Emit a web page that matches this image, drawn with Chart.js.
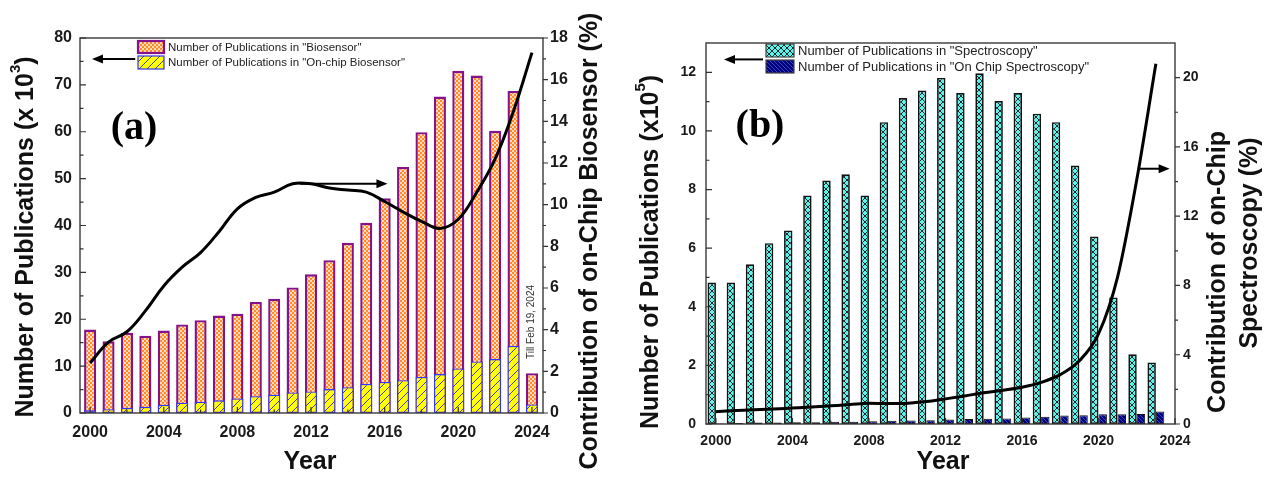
<!DOCTYPE html>
<html>
<head>
<meta charset="utf-8">
<script src="https://cdn.jsdelivr.net/npm/chart.js@4.4.1/dist/chart.umd.min.js"></script>
<style>
  html, body { margin: 0; padding: 0; background: #fff; }
  #wrap { position: relative; width: 1270px; height: 479px; overflow: hidden; background: #fff; }
  .panel { position: absolute; top: 0; height: 479px; }
  #pa { left: 0; width: 620px; }
  #pb { left: 625px; width: 645px; }
</style>
</head>
<body>
<div id="wrap">
  <div class="panel" id="pa"><canvas id="ca"></canvas></div>
  <div class="panel" id="pb"><canvas id="cb"></canvas></div>
</div>
<script>
// ---------- Panel (a): biosensor publications ----------
const yearsA = [2000, 2001, 2002, 2003, 2004, 2005, 2006, 2007, 2008, 2009, 2010, 2011, 2012,
                2013, 2014, 2015, 2016, 2017, 2018, 2019, 2020, 2021, 2022, 2023, 2024];
// publications, thousands
const biosensorPubs = [17.8, 15.3, 17.1, 16.5, 17.6, 18.9, 19.8, 20.8, 21.2, 23.7, 24.4, 26.8, 29.6,
                       32.6, 36.3, 40.6, 45.8, 52.5, 59.9, 67.5, 73.0, 72.0, 60.2, 68.7, 8.5];
const onChipBiosensorPubs = [0.6, 0.8, 1.1, 1.3, 1.7, 2.2, 2.4, 2.7, 3.1, 3.6, 3.9, 4.4, 4.6,
                             5.1, 5.5, 6.2, 6.6, 7.0, 7.7, 8.3, 9.5, 11.0, 11.5, 14.3, 1.8];
// share of on-chip work, percent
const onChipBiosensorShare = [2.4, 3.4, 3.9, 4.9, 6.1, 7.0, 7.7, 8.7, 9.8, 10.35, 10.6, 11.0, 11.0,
                              10.8, 10.7, 10.6, 10.15, 9.65, 9.2, 8.86, 9.3, 10.6, 12.2, 14.5, 17.3];

// ---------- Panel (b): spectroscopy publications ----------
const yearsB = [2000, 2001, 2002, 2003, 2004, 2005, 2006, 2007, 2008, 2009, 2010, 2011,
                2012, 2013, 2014, 2015, 2016, 2017, 2018, 2019, 2020, 2021, 2022, 2023];
// publications, units of 10^5
const spectroscopyPubs = [4.83, 4.83, 5.45, 6.17, 6.6, 7.8, 8.31, 8.52, 7.8, 10.3, 11.12, 11.38,
                          11.81, 11.29, 11.97, 11.02, 11.29, 10.59, 10.3, 8.82, 6.4, 4.32, 2.38, 2.1];
const onChipSpectroscopyPubs = [0.02, 0.03, 0.05, 0.05, 0.06, 0.06, 0.08, 0.08, 0.09, 0.11, 0.12, 0.13,
                                0.15, 0.17, 0.18, 0.19, 0.22, 0.25, 0.29, 0.30, 0.33, 0.33, 0.34, 0.43];
const onChipSpectroscopyShare = [0.71, 0.78, 0.82, 0.86, 0.92, 0.98, 1.05, 1.12, 1.2, 1.18, 1.2, 1.3,
                                 1.45, 1.62, 1.8, 1.95, 2.12, 2.4, 2.85, 3.65, 5.2, 8.5, 14.1, 20.8];

// ---------- tick values ----------
const yearTicks = [2000, 2004, 2008, 2012, 2016, 2020, 2024];
const pubTicksA = [0, 10, 20, 30, 40, 50, 60, 70, 80];
const shareTicksA = [0, 2, 4, 6, 8, 10, 12, 14, 16, 18];
const pubTicksB = [0, 2, 4, 6, 8, 10, 12];
const shareTicksB = [0, 4, 8, 12, 16, 20];

const FONT = '"Liberation Sans", Arial, Helvetica, sans-serif';
const SERIF = '"Liberation Serif", "Times New Roman", serif';

const pts = (xs, ys) => xs.map((x, i) => ({ x: x, y: ys[i] }));
const midpoints = (arr) => arr.slice(0, -1).map((v, i) => (v + arr[i + 1]) / 2);

function makePattern(ctx, size, paint) {
  const c = document.createElement('canvas');
  c.width = size; c.height = size;
  paint(c.getContext('2d'), size);
  return ctx.createPattern(c, 'repeat');
}

const ctxA = document.getElementById('ca').getContext('2d');
const ctxB = document.getElementById('cb').getContext('2d');

function paintChecker(g, n) {
  g.fillStyle = '#ffdcb4'; g.fillRect(0, 0, n, n);
  g.fillStyle = '#ff8a2c';
  g.fillRect(0, 0, n / 2, n / 2); g.fillRect(n / 2, n / 2, n / 2, n / 2);
}
function paintYellowHatch(g, n) {
  g.fillStyle = '#ffff00'; g.fillRect(0, 0, n, n);
  g.strokeStyle = '#44446e'; g.lineWidth = 1;
  g.beginPath();
  g.moveTo(0, n); g.lineTo(n, 0);
  g.moveTo(-1, 1); g.lineTo(1, -1);
  g.moveTo(n - 1, n + 1); g.lineTo(n + 1, n - 1);
  g.stroke();
}
function paintCyanCross(g, n) {
  g.fillStyle = '#5ef3ea'; g.fillRect(0, 0, n, n);
  g.strokeStyle = '#1c2a2a'; g.lineWidth = 1;
  g.beginPath();
  g.moveTo(0, 0); g.lineTo(n, n);
  g.moveTo(0, n); g.lineTo(n, 0);
  g.stroke();
}
function paintNavyHatch(g, n) {
  g.fillStyle = '#00007a'; g.fillRect(0, 0, n, n);
  g.strokeStyle = '#3346c8'; g.lineWidth = 1;
  g.beginPath();
  g.moveTo(0, 0); g.lineTo(n, n);
  g.moveTo(-1, n - 1); g.lineTo(1, n + 1);
  g.moveTo(n - 1, -1); g.lineTo(n + 1, 1);
  g.stroke();
}

const orangeA = makePattern(ctxA, 4, paintChecker);
const yellowA = makePattern(ctxA, 8, paintYellowHatch);
const cyanB = makePattern(ctxB, 6, paintCyanCross);
const navyB = makePattern(ctxB, 4, paintNavyHatch);

// ---------- drawing helpers ----------
function arrow(ctx, x1, y1, x2, y2) {
  const ang = Math.atan2(y2 - y1, x2 - x1), hl = 11, hw = 4.5;
  const c = Math.cos(ang), s = Math.sin(ang);
  ctx.beginPath(); ctx.moveTo(x1, y1); ctx.lineTo(x2 - hl * c * 0.7, y2 - hl * s * 0.7); ctx.stroke();
  ctx.beginPath();
  ctx.moveTo(x2, y2);
  ctx.lineTo(x2 - hl * c + hw * s, y2 - hl * s - hw * c);
  ctx.lineTo(x2 - hl * c - hw * s, y2 - hl * s + hw * c);
  ctx.closePath(); ctx.fill();
}

// parts: [{t, sup}]; drawn centred on (x, y), rotated by rot
function richText(ctx, parts, x, y, size, rot) {
  ctx.save();
  ctx.translate(x, y);
  ctx.rotate(rot || 0);
  ctx.textBaseline = 'middle';
  ctx.textAlign = 'left';
  let total = 0;
  const w = parts.map(p => {
    ctx.font = 'bold ' + (p.sup ? size * 0.6 : size) + 'px ' + FONT;
    const m = ctx.measureText(p.t).width; total += m; return m;
  });
  let cx = -total / 2;
  parts.forEach((p, i) => {
    ctx.font = 'bold ' + (p.sup ? size * 0.6 : size) + 'px ' + FONT;
    ctx.fillText(p.t, cx, p.sup ? -size * 0.42 : 0);
    cx += w[i];
  });
  ctx.restore();
}

function drawTicks(ctx, chart, spec) {
  const a = chart.chartArea, sx = chart.scales.x, yl = chart.scales.yL, yr = chart.scales.yR;
  ctx.strokeStyle = '#333'; ctx.lineWidth = 1.2;
  ctx.beginPath();
  spec.xMajor.forEach(v => { const p = sx.getPixelForValue(v); ctx.moveTo(p, a.bottom); ctx.lineTo(p, a.bottom - 6); });
  spec.xMinor.forEach(v => { const p = sx.getPixelForValue(v); ctx.moveTo(p, a.bottom); ctx.lineTo(p, a.bottom - 3.5); });
  spec.lMajor.forEach(v => { const p = yl.getPixelForValue(v); ctx.moveTo(a.left, p); ctx.lineTo(a.left + 6, p); });
  spec.lMinor.forEach(v => { const p = yl.getPixelForValue(v); ctx.moveTo(a.left, p); ctx.lineTo(a.left + 3.5, p); });
  spec.rMajor.forEach(v => { const p = yr.getPixelForValue(v); ctx.moveTo(a.right, p); ctx.lineTo(a.right + 5, p); });
  spec.rMinor.forEach(v => { const p = yr.getPixelForValue(v); ctx.moveTo(a.right, p); ctx.lineTo(a.right + 3, p); });
  ctx.stroke();
}

function legendRow(ctx, x, y, w, h, fill, stroke, lw, text, size) {
  ctx.fillStyle = fill; ctx.fillRect(x, y, w, h);
  ctx.strokeStyle = stroke; ctx.lineWidth = lw; ctx.strokeRect(x, y, w, h);
  ctx.fillStyle = '#222';
  ctx.font = size + 'px ' + FONT;
  ctx.textBaseline = 'middle'; ctx.textAlign = 'left';
  ctx.fillText(text, x + w + 4, y + h / 2 + 0.5);
}

// ---------- shared scale options ----------
function xScale(min, max, height, pad, size) {
  return {
    type: 'linear', position: 'bottom', min: min, max: max, offset: false,
    grid: { display: false, drawTicks: false }, border: { display: false },
    ticks: { color: '#1a1a1a', padding: pad, maxRotation: 0, autoSkip: false,
             font: { family: FONT, size: size, weight: 'bold' }, callback: v => String(v) },
    afterBuildTicks: s => { s.ticks = yearTicks.map(v => ({ value: v })); },
    afterFit: s => { s.height = height; }
  };
}
function yScale(pos, min, max, ticks, width, pad, size) {
  return {
    type: 'linear', position: pos, min: min, max: max,
    grid: { display: false, drawTicks: false }, border: { display: false },
    ticks: { color: '#1a1a1a', padding: pad, font: { family: FONT, size: size, weight: 'bold' } },
    afterBuildTicks: s => { s.ticks = ticks.map(v => ({ value: v })); },
    afterFit: s => { s.width = width; }
  };
}

// ---------- chart (a) ----------
const decorA = {
  id: 'decorA',
  afterDraw(chart) {
    const ctx = chart.ctx, a = chart.chartArea, sx = chart.scales.x, yl = chart.scales.yL, yr = chart.scales.yR;
    ctx.save();
    ctx.strokeStyle = '#3a3a3a'; ctx.lineWidth = 1.4;
    ctx.strokeRect(a.left, a.top, a.right - a.left, a.bottom - a.top);
    drawTicks(ctx, chart, {
      xMajor: yearTicks, xMinor: midpoints(yearTicks),
      lMajor: pubTicksA, lMinor: midpoints(pubTicksA),
      rMajor: shareTicksA, rMinor: midpoints(shareTicksA)
    });
    // legend
    legendRow(ctx, 138, 41, 26, 12, orangeA, '#85128a', 2.2, 'Number of Publications in "Biosensor"', 11.5);
    legendRow(ctx, 138, 56, 26, 13, yellowA, '#3333ff', 1.2, 'Number of Publications in "On-chip Biosensor"', 11.5);
    // axis arrows
    ctx.strokeStyle = '#000'; ctx.fillStyle = '#000'; ctx.lineWidth = 2;
    arrow(ctx, sx.getPixelForValue(2002.45), yl.getPixelForValue(75.5), sx.getPixelForValue(2000.1), yl.getPixelForValue(75.5));
    arrow(ctx, sx.getPixelForValue(2011.4), yr.getPixelForValue(11.0), sx.getPixelForValue(2016.15), yr.getPixelForValue(11.0));
    // panel tag
    ctx.fillStyle = '#000'; ctx.font = 'bold 40px ' + SERIF;
    ctx.textAlign = 'center'; ctx.textBaseline = 'middle';
    ctx.fillText('(a)', 134, 129);
    // partial-year note
    ctx.save();
    ctx.translate(531, 322); ctx.rotate(-Math.PI / 2);
    ctx.fillStyle = '#333'; ctx.font = '10px ' + FONT;
    ctx.fillText('Till Feb 19, 2024', 0, 0);
    ctx.restore();
    // axis titles
    ctx.fillStyle = '#111';
    richText(ctx, [{ t: 'Number of Publications (x 10' }, { t: '3', sup: true }, { t: ')' }], 26, 237, 25, -Math.PI / 2);
    richText(ctx, [{ t: 'Contribution of on-Chip Biosensor (%)' }], 590, 241, 25, -Math.PI / 2);
    richText(ctx, [{ t: 'Year' }], 310, 462, 25, 0);
    ctx.restore();
  }
};

new Chart(ctxA, {
  type: 'bar',
  data: {
    datasets: [
      { type: 'line', data: pts(yearsA, onChipBiosensorShare), yAxisID: 'yR',
        borderColor: '#000', borderWidth: 3, pointRadius: 0, tension: 0.4, order: 0 },
      { label: 'Number of Publications in "On-chip Biosensor"', data: pts(yearsA, onChipBiosensorPubs), yAxisID: 'yL',
        backgroundColor: yellowA, borderColor: '#3333ff', borderWidth: 1.3, borderSkipped: false,
        grouped: false, barPercentage: 0.82, order: 1 },
      { label: 'Number of Publications in "Biosensor"', data: pts(yearsA, biosensorPubs), yAxisID: 'yL',
        backgroundColor: orangeA, borderColor: '#85128a', borderWidth: 2.4, borderSkipped: false,
        grouped: false, barPercentage: 0.82, order: 2 }
    ]
  },
  options: {
    responsive: true, maintainAspectRatio: false, animation: false, events: [],
    layout: { padding: { top: 38, left: 0, right: 0, bottom: 0 } },
    plugins: { legend: { display: false }, tooltip: { enabled: false } },
    scales: {
      x: xScale(1999.45, 2024.6, 66, 10, 16),
      yL: yScale('left', 0, 80, pubTicksA, 80, 8, 16),
      yR: yScale('right', 0, 18, shareTicksA, 77, 7, 16)
    }
  },
  plugins: [decorA]
});

// ---------- chart (b) ----------
const decorB = {
  id: 'decorB',
  afterDraw(chart) {
    const ctx = chart.ctx, a = chart.chartArea, sx = chart.scales.x, yl = chart.scales.yL, yr = chart.scales.yR;
    ctx.save();
    ctx.strokeStyle = '#3a3a3a'; ctx.lineWidth = 1.4;
    ctx.strokeRect(a.left, a.top, a.right - a.left, a.bottom - a.top);
    drawTicks(ctx, chart, {
      xMajor: yearTicks, xMinor: midpoints(yearTicks),
      lMajor: pubTicksB, lMinor: midpoints(pubTicksB),
      rMajor: shareTicksB, rMinor: midpoints(shareTicksB)
    });
    legendRow(ctx, 141, 44, 28, 13, cyanB, '#444', 1.2, 'Number of Publications in "Spectroscopy"', 13);
    legendRow(ctx, 141, 60, 28, 13, navyB, '#444', 1.2, 'Number of Publications in "On Chip Spectroscopy"', 13);
    ctx.strokeStyle = '#000'; ctx.fillStyle = '#000'; ctx.lineWidth = 2;
    arrow(ctx, sx.getPixelForValue(2002.46), yl.getPixelForValue(12.44), sx.getPixelForValue(2000.42), yl.getPixelForValue(12.44));
    arrow(ctx, sx.getPixelForValue(2022.15), yr.getPixelForValue(14.74), sx.getPixelForValue(2023.72), yr.getPixelForValue(14.74));
    ctx.fillStyle = '#000'; ctx.font = 'bold 40px ' + SERIF;
    ctx.textAlign = 'center'; ctx.textBaseline = 'middle';
    ctx.fillText('(b)', 135, 127);
    ctx.fillStyle = '#111';
    richText(ctx, [{ t: 'Number of Publications (x10' }, { t: '5', sup: true }, { t: ')' }], 26, 252, 25, -Math.PI / 2);
    richText(ctx, [{ t: 'Contribution of on-Chip' }], 593, 272, 25, -Math.PI / 2);
    richText(ctx, [{ t: 'Spectroscopy (%)' }], 625, 243, 25, -Math.PI / 2);
    richText(ctx, [{ t: 'Year' }], 318, 462, 25, 0);
    ctx.restore();
  }
};

new Chart(ctxB, {
  type: 'bar',
  data: {
    datasets: [
      { type: 'line', data: pts(yearsB, onChipSpectroscopyShare), yAxisID: 'yR',
        borderColor: '#000', borderWidth: 3, pointRadius: 0, cubicInterpolationMode: 'monotone', order: 0 },
      { label: 'Number of Publications in "Spectroscopy"', data: pts(yearsB, spectroscopyPubs), yAxisID: 'yL',
        backgroundColor: cyanB, borderColor: '#111', borderWidth: 1.7, borderSkipped: false,
        categoryPercentage: 0.88, barPercentage: 1.0, order: 1 },
      { label: 'Number of Publications in "On Chip Spectroscopy"', data: pts(yearsB, onChipSpectroscopyPubs), yAxisID: 'yL',
        backgroundColor: navyB, borderColor: '#111', borderWidth: 1, borderSkipped: false,
        categoryPercentage: 0.88, barPercentage: 1.0, order: 1 }
    ]
  },
  options: {
    responsive: true, maintainAspectRatio: false, animation: false, events: [],
    layout: { padding: { top: 43, left: 0, right: 0, bottom: 0 } },
    plugins: { legend: { display: false }, tooltip: { enabled: false } },
    scales: {
      x: xScale(1999.48, 2024, 55, 9, 14),
      yL: yScale('left', 0, 13, pubTicksB, 81, 10, 14),
      yR: yScale('right', 0, 22, shareTicksB, 95, 8, 14)
    }
  },
  plugins: [decorB]
});
</script>
</body>
</html>
